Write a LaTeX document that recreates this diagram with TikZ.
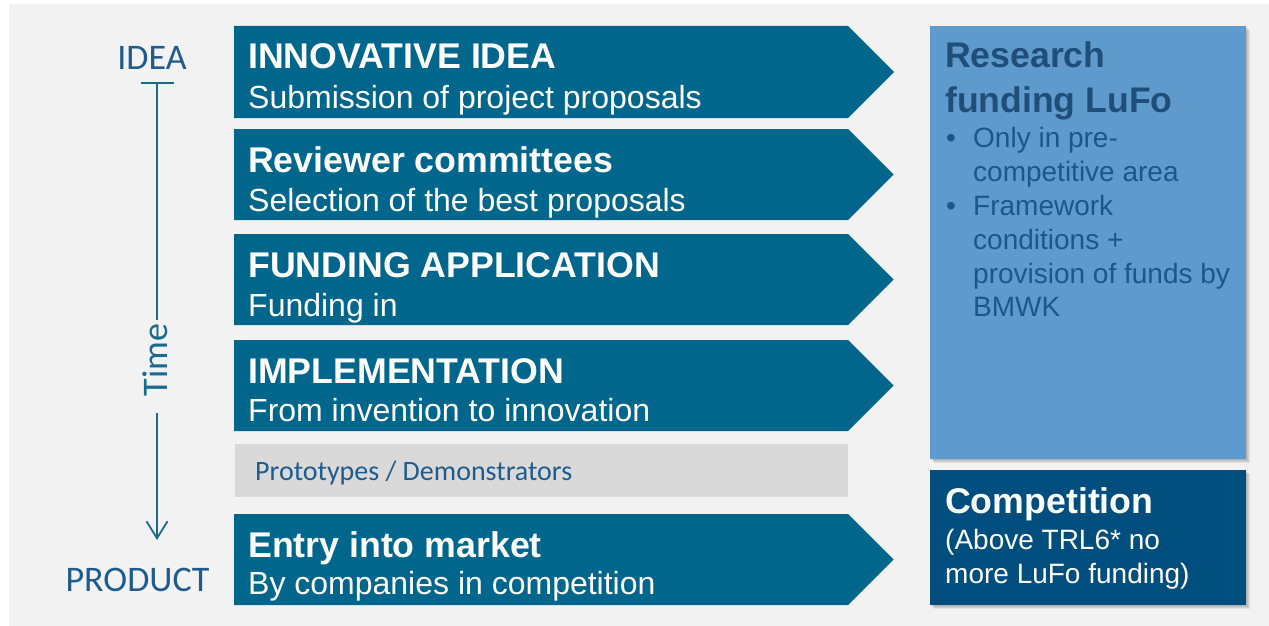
\documentclass[tikz,border=0pt]{standalone}
\usepackage{fontspec}
\setmainfont{Liberation Sans}
\newfontfamily\calib{Carlito}
\usetikzlibrary{arrows.meta}
\definecolor{bgc}{HTML}{F2F2F2}
\definecolor{chev}{HTML}{00668C}
\definecolor{rbox}{HTML}{5F9ACC}
\definecolor{cbox}{HTML}{004E7E}
\definecolor{dtext}{HTML}{1F4E79}
\definecolor{btext}{HTML}{1F5689}
\definecolor{tline}{HTML}{1A6A90}
\definecolor{ptext}{HTML}{1F5B8C}
\definecolor{gbox}{HTML}{D9D9D9}
\newcommand\mychev[2]{%
  \fill[chevfill] (234,#1) -- (848,#1) -- ({848+(#2-#1)/2},{(#1+#2)/2}) -- (848,#2) -- (234,#2) -- cycle;}
\newcommand\myshadow[4]{%
  \foreach \o in {1,2,3,4}{\fill[black,opacity=0.07] ({#1+\o},{#2+\o}) rectangle ({#3+\o},{#4+\o});}}
\begin{document}
\begin{tikzpicture}[x=1pt,y=-1pt,
  chevfill/.style={fill=chev},
  head/.style={anchor=base west,inner sep=0,text=white,font=\fontsize{35.7}{42}\selectfont\bfseries},
  sub/.style={anchor=base west,inner sep=0,text=white,font=\fontsize{32}{38}\selectfont},
  rhead/.style={anchor=base west,inner sep=0,text=dtext,font=\fontsize{35.6}{42}\selectfont\bfseries},
  rtext/.style={anchor=base west,inner sep=0,text=btext,font=\fontsize{28}{34}\selectfont},
  ctext/.style={anchor=base west,inner sep=0,text=white,font=\fontsize{28}{34}\selectfont},
  chead/.style={anchor=base west,inner sep=0,text=white,font=\fontsize{35.7}{42}\selectfont\bfseries},
  tlabel/.style={anchor=base,inner sep=0,text=ptext,font=\calib\fontsize{36}{42}\selectfont},
  tl/.style={draw=tline,line width=1.8pt}
]
\useasboundingbox (0,0) rectangle (1269,626);
\fill[white] (0,0) rectangle (1269,626);
\fill[bgc] (9,4) rectangle (1269,626);

% chevrons
\mychev{26}{118}
\mychev{129}{220}
\mychev{234}{325}
\mychev{340}{431}
\mychev{514}{605}
\fill[gbox] (235,444) rectangle (848,497);

\node[head] (h1) at (248,69) {INNOVATIVE IDEA};
\node[sub] (s1) at (248,108) {Submission of project proposals};
\node[head] (h2) at (248,172) {Reviewer committees};
\node[sub] (s2) at (248,211) {Selection of the best proposals};
\node[head] (h3) at (248,277) {FUNDING APPLICATION};
\node[sub] (s3) at (248,316) {Funding in};
\node[head] (h4) at (248,383) {IMPLEMENTATION};
\node[sub] (s4) at (248,421) {From invention to innovation};
\node[anchor=base west,inner sep=0,text=ptext,font=\calib\fontsize{28}{32}\selectfont] (proto) at (255,480) {Prototypes / Demonstrators};
\node[head] (h5) at (248,557) {Entry into market};
\node[sub] (s5) at (248,594) {By companies in competition};

% right boxes
\myshadow{930}{26}{1246}{459}
\fill[rbox] (930,26) rectangle (1246,459);
\myshadow{930}{470}{1246}{605}
\fill[cbox] (930,470) rectangle (1246,605);

\node[rhead] (r1) at (945,68) {Research};
\node[rhead] (r2) at (945,112) {funding LuFo};
\node[rtext] (b1) at (946,147) {•};
\node[rtext] (t1) at (973,147) {Only in pre-};
\node[rtext] (t2) at (973,181) {competitive area};
\node[rtext] (b2) at (946,215) {•};
\node[rtext] (t3) at (973,215) {Framework};
\node[rtext] (t4) at (973,249) {conditions +};
\node[rtext] (t5) at (973,283) {provision of funds by};
\node[rtext] (t6) at (973,316) {BMWK};

\node[chead] (c1) at (945,513) {Competition};
\node[ctext] (c2) at (945,549) {(Above TRL6* no};
\node[ctext] (c3) at (945,583) {more LuFo funding)};

% timeline
\node[tlabel] (idea) at (152,70) {IDEA};
\node[tlabel] (product) at (137.5,591) {PRODUCT};
\node[rotate=90,inner sep=0,text=tline,font=\calib\fontsize{36}{42}\selectfont] (time) at (155,360) {Time};
\coordinate (tickL) at (141,83);
\coordinate (tickR) at (174,83);
\coordinate (top) at (157,83);
\coordinate (up1) at (157,320);
\coordinate (lo1) at (157,413);
\coordinate (bot) at (157,540);
\draw[tl] (tickL) -- (tickR);
\draw[tl] (top) -- (up1);
\draw[tl,-{Straight Barb[length=17pt,width=21pt,line width=1.8pt]}] (lo1) -- (bot);
\end{tikzpicture}
\end{document}
